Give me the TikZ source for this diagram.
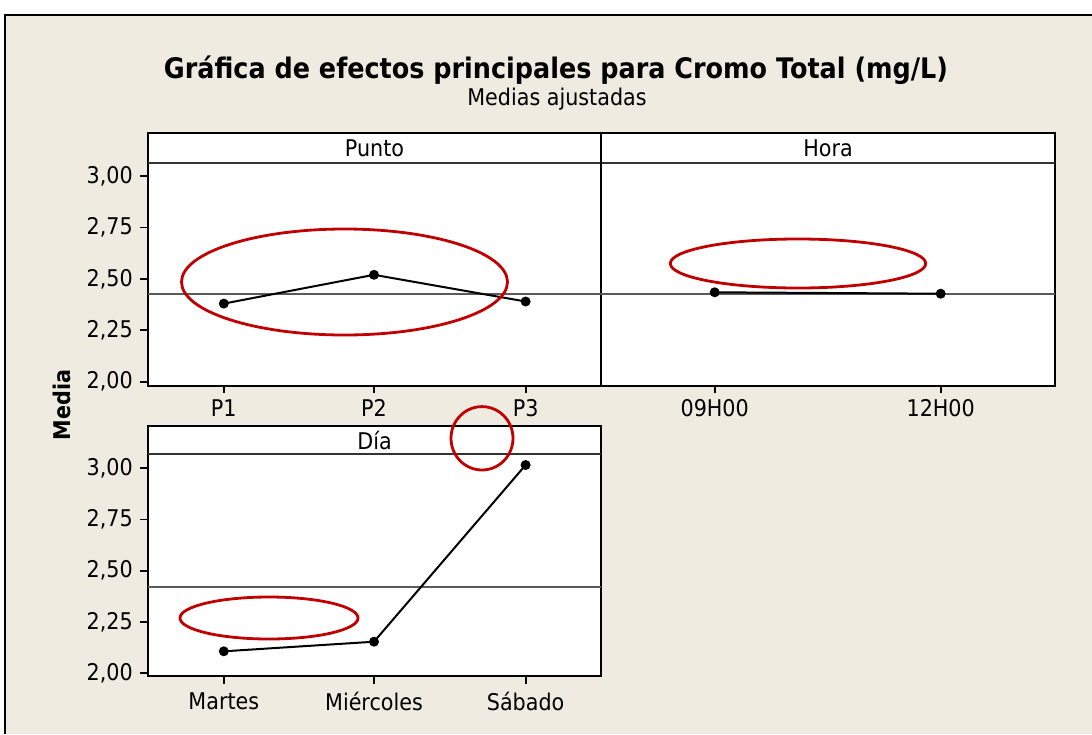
\documentclass[tikz,border=0pt]{standalone}
\usepackage{fontspec}
\setmainfont{DejaVu Sans}[FakeStretch=0.9]
\usepackage{tikz}

\definecolor{fondo}{RGB}{239,235,225}
\definecolor{marca}{RGB}{192,0,0}
\definecolor{refgris}{RGB}{90,90,90}

\tikzset{
  marco/.style={draw=black, line width=2.2pt, fill=white},
  tira/.style={draw=black!80, line width=2.2pt},
  refl/.style={draw=refgris, line width=1.8pt},
  datos/.style={draw=black, line width=2pt},
  tick/.style={draw=black, line width=1.8pt},
  circulo/.style={draw=marca, line width=2.8pt},
  etiq/.style={font=\fontsize{23}{23}\selectfont, inner sep=0pt},
}

\begin{document}
\begin{tikzpicture}[x=1pt, y=-1pt]
            \useasboundingbox (0,0) rectangle (1092,734);
            \fill[white] (0,0) rectangle (1092,734);
            \fill[fondo] (5,15) rectangle (1092,734);
            \draw[line width=1.8pt] (5,734) -- (5,15) -- (1092,15);

            % titulos
            \node (titulo) at (556,70) [font=\fontsize{28.3}{28.3}\selectfont\bfseries] {Gráfica de efectos principales para Cromo Total (mg/L)};
            \node (subtitulo) at (557,99) [etiq] {Medias ajustadas};
            \node (eje) at (62,405) [etiq, font=\fontsize{23}{23}\selectfont\bfseries, rotate=90] {Media};

            % paneles superiores
            \draw[marco] (148,132.7) rectangle (1055,385.7);
            \draw[tira] (148,163) -- (1055,163);
            \draw[line width=2.2pt] (601,132.7) -- (601,385.7);
            \node (punto) at (374.5,148) [etiq] {Punto};
            \node (hora) at (828,148) [etiq] {Hora};
            \draw[refl] (148,294.3) -- (1055,294.3);

            % eje y superior
            \draw[tick] (140,176.1) -- (148,176.1);
            \draw[tick] (140,227.5) -- (148,227.5);
            \draw[tick] (140,278.9) -- (148,278.9);
            \draw[tick] (140,330.3) -- (148,330.3);
            \draw[tick] (140,381.7) -- (148,381.7);
            \node at (133,176.1) [etiq, anchor=east] {3,00};
            \node at (133,227.5) [etiq, anchor=east] {2,75};
            \node at (133,278.9) [etiq, anchor=east] {2,50};
            \node at (133,330.3) [etiq, anchor=east] {2,25};
            \node at (133,381.7) [etiq, anchor=east] {2,00};

            % eje x superior
            \draw[tick] (223.8,385.7) -- (223.8,393);
            \draw[tick] (374,385.7) -- (374,393);
            \draw[tick] (525.6,385.7) -- (525.6,393);
            \draw[tick] (714.7,385.7) -- (714.7,393);
            \draw[tick] (940.7,385.7) -- (940.7,393);
            \node at (223.8,408) [etiq] {P1};
            \node at (374,408) [etiq] {P2};
            \node at (525.6,408) [etiq] {P3};
            \node at (714.7,408) [etiq] {09H00};
            \node at (940.7,408) [etiq] {12H00};

            % medias Punto y Hora
            \coordinate (p1) at (223.8,303.6);
            \coordinate (p2) at (374,274.8);
            \coordinate (p3) at (525.6,301.5);
            \coordinate (h1) at (714.7,292.3);
            \coordinate (h2) at (940.7,293.7);

            \draw[datos] (p1) -- (p2);
            \draw[datos] (p2) -- (p3);
            \draw[datos] (h1) -- (h2);

            \fill (p1) circle (5pt);
            \fill (p2) circle (5pt);
            \fill (p3) circle (5pt);
            \fill (h1) circle (5pt);
            \fill (h2) circle (5pt);

            % panel Dia
            \draw[marco] (148,425.7) rectangle (601,676.3);
            \draw[tira] (148,453.7) -- (601,453.7);
            \node (dia) at (374.5,440) [etiq] {Día};
            \draw[refl] (148,587.3) -- (601,587.3);

            \draw[tick] (140,468.2) -- (148,468.2);
            \draw[tick] (140,519.4) -- (148,519.4);
            \draw[tick] (140,570.6) -- (148,570.6);
            \draw[tick] (140,621.8) -- (148,621.8);
            \draw[tick] (140,673) -- (148,673);
            \node at (133,468.2) [etiq, anchor=east] {3,00};
            \node at (133,519.4) [etiq, anchor=east] {2,75};
            \node at (133,570.6) [etiq, anchor=east] {2,50};
            \node at (133,621.8) [etiq, anchor=east] {2,25};
            \node at (133,673) [etiq, anchor=east] {2,00};

            \draw[tick] (223.8,676.3) -- (223.8,684);
            \draw[tick] (374,676.3) -- (374,684);
            \draw[tick] (525.6,676.3) -- (525.6,684);
            \node at (223.8,701.7) [etiq] {Martes};
            \node at (374,701.7) [etiq] {Miércoles};
            \node at (525.6,701.7) [etiq] {Sábado};

            \coordinate (d1) at (223.8,651.3);
            \coordinate (d2) at (374,641.7);
            \coordinate (d3) at (525.6,465);

            \draw[datos] (d1) -- (d2);
            \draw[datos] (d2) -- (d3);

            \fill (d1) circle (5pt);
            \fill (d2) circle (5pt);
            \fill (d3) circle (5pt);

            % marcas rojas
            \draw[circulo] (344.5,282) ellipse (163pt and 53pt);
            \draw[circulo] (798,263.5) ellipse (127.7pt and 24.5pt);
            \draw[circulo] (269,618) ellipse (89pt and 21pt);
            \draw[circulo] (482,438.3) ellipse (31pt and 31.7pt);

            \end{tikzpicture}
\end{document}
